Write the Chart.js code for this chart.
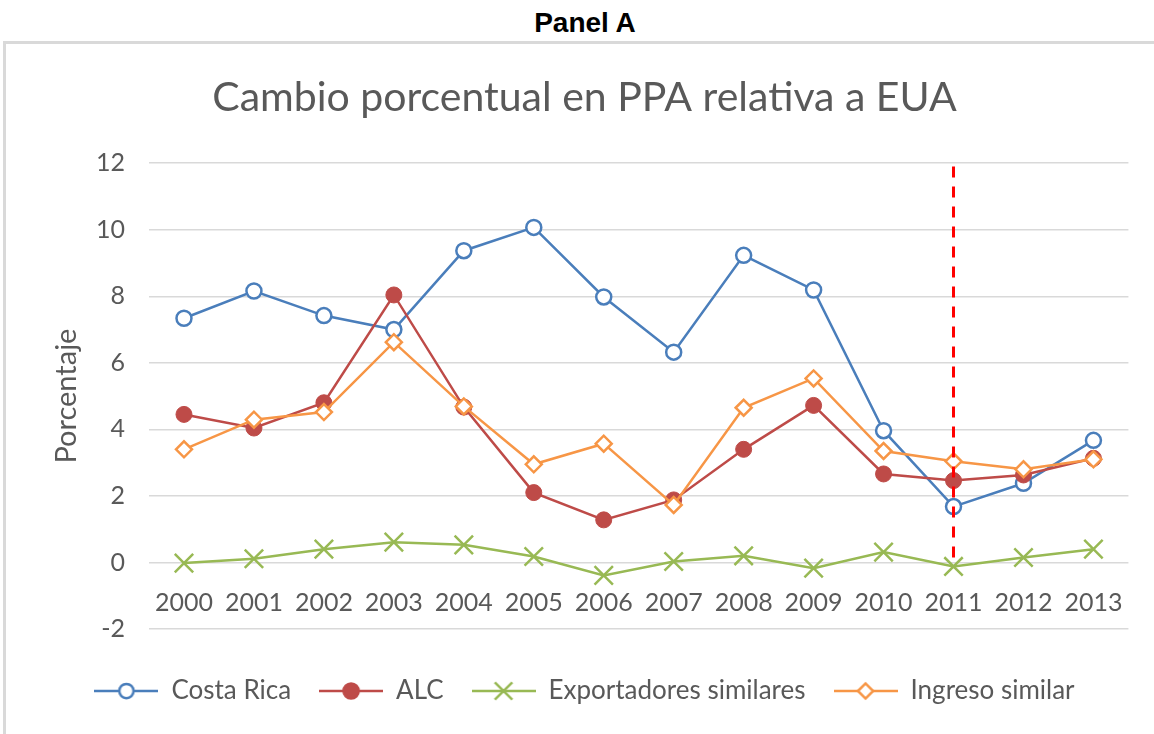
<!DOCTYPE html>
<html>
<head>
<meta charset="utf-8">
<script src="https://cdn.jsdelivr.net/npm/chart.js@4.4.1/dist/chart.umd.min.js"></script>
<style>
  html, body { margin: 0; padding: 0; background: #fff; }
  body { width: 1154px; height: 734px; overflow: hidden; position: relative; }
  #panel {
    position: absolute; left: 0; top: 9px; width: 1170px;
    text-align: center; font: bold 28px 'Liberation Sans', Arial, sans-serif;
    line-height: 28px; color: #000;
  }
  #frame {
    position: absolute; left: 3px; top: 41px; width: 1200px; height: 760px;
    border: 3px solid #d9d9d9; box-sizing: border-box;
  }
  #wrap { position: absolute; left: 0; top: 0; width: 1148px; height: 734px; }
</style>
</head>
<body>
<div id="panel">Panel A</div>
<div id="frame"></div>
<div id="wrap"><canvas id="chart"></canvas></div>
<script>
// Datos
const years = ['2000', '2001', '2002', '2003', '2004', '2005', '2006',
               '2007', '2008', '2009', '2010', '2011', '2012', '2013'];
const costaRica = [7.34, 8.16, 7.42, 7.0, 9.37, 10.07, 7.98, 6.32, 9.23, 8.19, 3.96, 1.68, 2.38, 3.67];
const alc = [4.45, 4.04, 4.8, 8.04, 4.67, 2.1, 1.28, 1.88, 3.4, 4.72, 2.66, 2.46, 2.63, 3.13];
const exportadores = [-0.02, 0.11, 0.4, 0.61, 0.53, 0.18, -0.39, 0.03, 0.2, -0.17, 0.31, -0.12, 0.15, 0.4];
const ingreso = [3.4, 4.29, 4.52, 6.62, 4.69, 2.95, 3.57, 1.73, 4.65, 5.53, 3.35, 3.04, 2.8, 3.1];
const yTicks = [-2, 0, 2, 4, 6, 8, 10, 12];
// Línea vertical punteada en 2011
const markerYear = '2011';
const markerRange = [11.9, -0.1];

const textColor = '#595959';
const fontFamily = "Lato, 'Open Sans', sans-serif";

const series = [
    { label: 'Costa Rica', data: costaRica, color: '#4a7ebb', style: 'circle', radius: 7.5, fill: '#ffffff' },
    { label: 'ALC', data: alc, color: '#be4b48', style: 'circle', radius: 8, fill: '#be4b48' },
    { label: 'Exportadores similares', data: exportadores, color: '#98b954', style: 'crossRot', radius: 13, fill: '#98b954' },
    { label: 'Ingreso similar', data: ingreso, color: '#f79646', style: 'rectRot', radius: 8, fill: '#ffffff' }
];

/**
 * Icono de leyenda: línea con marcador al centro
 */
function legendIcon(s) {
    const c = document.createElement('canvas');
    c.width = 64;
    c.height = 24;
    const g = c.getContext('2d');
    g.strokeStyle = s.color;
    g.lineWidth = 2.5;
    g.beginPath();
    g.moveTo(0, 12);
    g.lineTo(64, 12);
    g.stroke();
    g.fillStyle = s.fill;
    Chart.helpers.drawPoint(g, { pointStyle: s.style, radius: s.radius * 0.95, rotation: 0, borderWidth: 2.5 }, 32, 12);
    return c;
}

const datasets = series.map((s, i) => ({
    label: s.label,
    data: s.data,
    borderColor: s.color,
    backgroundColor: s.fill,
    borderWidth: 2.5,
    pointStyle: s.style,
    pointRadius: s.radius,
    pointBorderWidth: s.style === 'circle' && s.fill !== '#ffffff' ? 1 : 2.5,
    pointBackgroundColor: s.fill,
    pointBorderColor: s.color,
    tension: 0,
    order: series.length - i
}));

datasets.push({
    label: 'marca',
    data: markerRange.map(v => ({ x: markerYear, y: v })),
    borderColor: '#ff0000',
    borderWidth: 3,
    borderDash: [11, 9],
    pointRadius: 0,
    order: 0
});

const icons = series.map(legendIcon);

new Chart(document.getElementById('chart'), {
    type: 'line',
    data: { labels: years, datasets: datasets },
    options: {
        responsive: true,
        maintainAspectRatio: false,
        animation: false,
        layout: { padding: { left: 21, right: 0, top: 0, bottom: 20 } },
        plugins: {
            tooltip: { enabled: false },
            title: {
                display: true,
                text: 'Cambio porcentual en PPA relativa a EUA',
                color: textColor,
                font: { family: fontFamily, size: 41, weight: 'normal' },
                padding: { top: 73, bottom: 41 }
            },
            legend: {
                position: 'bottom',
                title: { display: true, text: ' ', font: { size: 10, lineHeight: 1 }, padding: { top: 11, bottom: 0 } },
                labels: {
                    usePointStyle: true,
                    pointStyleWidth: 64,
                    padding: 28,
                    color: textColor,
                    font: { family: fontFamily, size: 26 },
                    generateLabels: () => series.map((s, i) => ({
                        text: s.label,
                        pointStyle: icons[i],
                        fillStyle: s.fill,
                        strokeStyle: s.color,
                        lineWidth: 0,
                        fontColor: textColor,
                        datasetIndex: i,
                        hidden: false
                    }))
                }
            }
        },
        scales: {
            x: {
                type: 'category',
                offset: true,
                position: { y: 0 },
                grid: { display: false, drawTicks: false },
                border: { display: false },
                ticks: {
                    color: textColor,
                    font: { family: fontFamily, size: 25 },
                    padding: 25,
                    maxRotation: 0,
                    autoSkip: false
                }
            },
            y: {
                min: yTicks[0],
                max: yTicks[yTicks.length - 1],
                afterBuildTicks: (scale) => { scale.ticks = yTicks.map(v => ({ value: v })); },
                afterFit: (scale) => { scale.width = 128; },
                grid: { color: '#d9d9d9', lineWidth: 1.5, drawTicks: false },
                border: { display: false },
                ticks: {
                    color: textColor,
                    font: { family: fontFamily, size: 25 },
                    padding: 24
                },
                title: {
                    display: true,
                    text: 'Porcentaje',
                    color: textColor,
                    font: { family: fontFamily, size: 29 },
                    padding: { top: 28, bottom: 0 }
                }
            }
        }
    }
});
</script>
</body>
</html>
